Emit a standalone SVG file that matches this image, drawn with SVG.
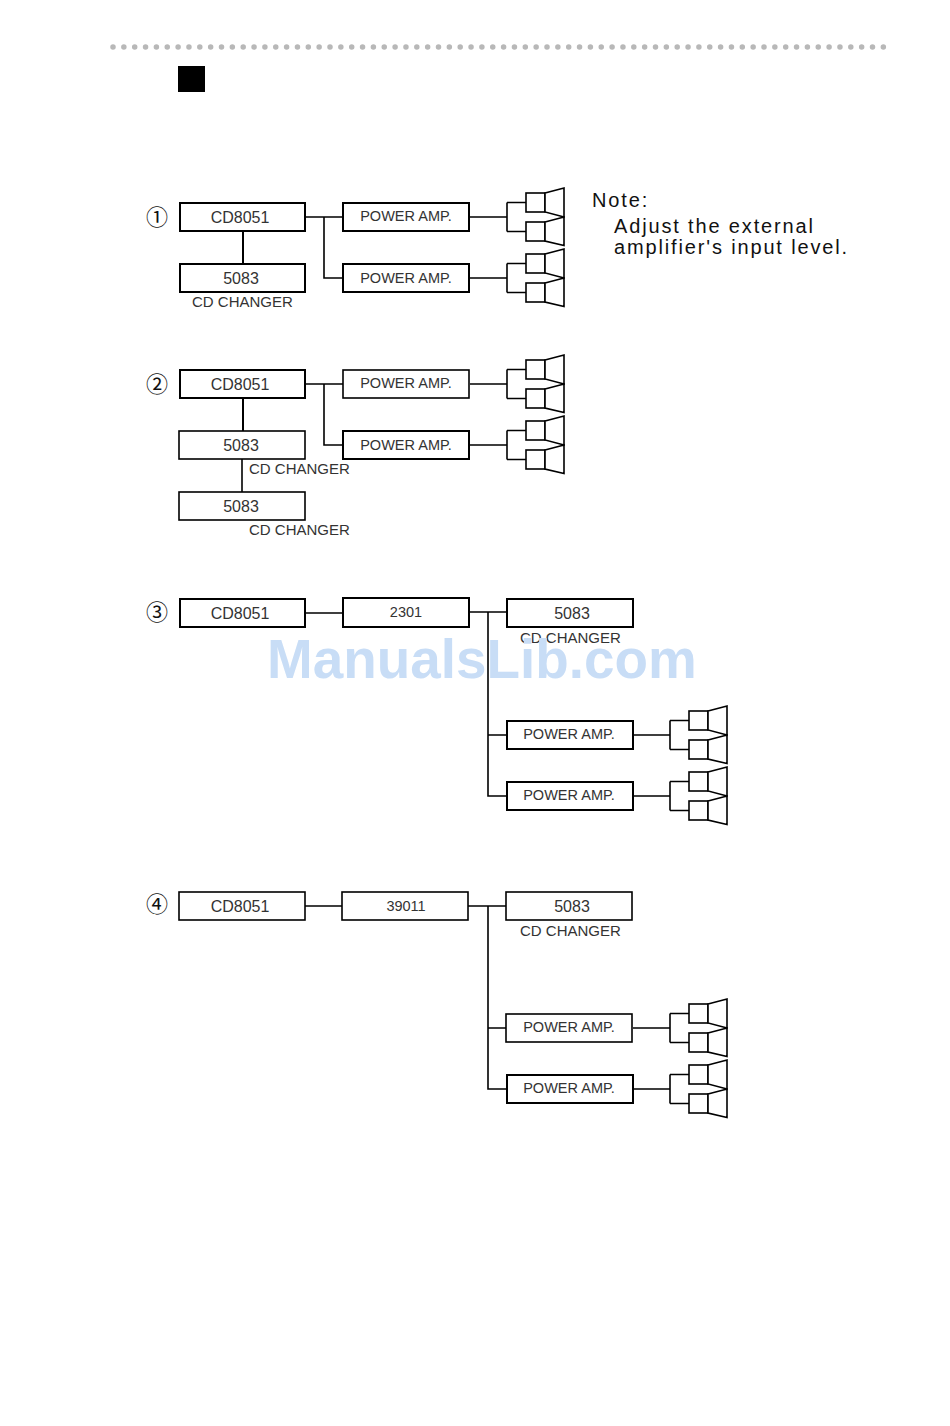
<svg xmlns="http://www.w3.org/2000/svg" xmlns:xlink="http://www.w3.org/1999/xlink" width="950" height="1426" viewBox="0 0 950 1426">
<style>
text{font-family:"Liberation Sans",Arial,sans-serif;fill:#333}
.b{fill:#fff;stroke:#000;stroke-width:2}
.c{fill:none;stroke:#000;stroke-width:1.6}
.s{fill:#fff;stroke:#000;stroke-width:1.6;stroke-linejoin:miter}
.m{font-size:16px;text-anchor:middle}
.p{font-size:14.5px;text-anchor:middle}
.l{font-size:15px}
.n{font-size:20px;letter-spacing:1.85px;fill:#111}
.k{font-family:"Noto Sans CJK JP","Noto Sans",sans-serif;font-size:22px;fill:#111}
</style>
<defs>
<g id="spk">
<path class="c" d="M-37 0H0M0 -14.500V14.500M0 -14.500H19M0 14.500H19"/>
<rect class="s" x="19" y="-24" width="19" height="19"/>
<path class="s" d="M38 -24 57 -29V0L38 -5Z"/>
<rect class="s" x="19" y="5" width="19" height="19"/>
<path class="s" d="M38 5 57 0V28.500L38 24Z"/>
</g>
</defs>
<rect width="950" height="1426" fill="#fff"/>
<g id="header">
<line x1="113" y1="47" x2="886" y2="47" stroke="#b8b8b8" stroke-width="5.500" stroke-linecap="round" stroke-dasharray="0 10.85"/>
<rect x="178" y="66" width="27" height="26" fill="#000"/>
</g>
<g id="connectors">
<path class="c" d="M305 217H343M324 217V278H343"/>
<path class="c" style="stroke-width:2" d="M243 231V264"/>
<path class="c" d="M305 384H343M324 384V445H343"/>
<path class="c" style="stroke-width:2" d="M243 398V431"/>
<path class="c" d="M242 459V492"/>
<path class="c" d="M305 613H343M469 612H507M488 612V796H507M488 735H507"/>
<path class="c" d="M305 906H342M468 906H506M488 906V1089H506M488 1028H506"/>
</g>
<g id="note">
<text class="n" x="592" y="207">Note:</text>
<text class="n" x="614" y="233">Adjust the external</text>
<text class="n" x="614" y="254">amplifier's input level.</text>
</g>
<g id="section1">
<text class="k" x="146" y="225">①</text>
<g id="s1-cd8051"><rect class="b" x="180" y="203" width="125" height="28"/><text class="m" x="240" y="223">CD8051</text></g>
<g id="s1-5083"><rect class="b" x="180" y="264" width="125" height="28"/><text class="m" x="241" y="284">5083</text></g>
<text id="s1-changer" class="l" x="192" y="307">CD CHANGER</text>
<g id="s1-amp1"><rect class="b" x="343" y="203" width="126" height="28"/><text class="p" x="406" y="221">POWER AMP.</text></g>
<g id="s1-amp2"><rect class="b" x="343" y="264" width="126" height="28"/><text class="p" x="406" y="283">POWER AMP.</text></g>
<use id="s1-spk1" href="#spk" xlink:href="#spk" x="507" y="217"/>
<use id="s1-spk2" href="#spk" xlink:href="#spk" x="507" y="278"/>
</g>
<g id="section2">
<text class="k" x="146" y="392">②</text>
<g id="s2-cd8051"><rect class="b" x="180" y="370" width="125" height="28"/><text class="m" x="240" y="390">CD8051</text></g>
<g id="s2-5083a"><rect class="b" style="stroke-width:1.6" x="179" y="431" width="126" height="28"/><text class="m" x="241" y="451">5083</text></g>
<text id="s2-changer1" class="l" x="249" y="474">CD CHANGER</text>
<g id="s2-5083b"><rect class="b" style="stroke-width:1.6" x="179" y="492" width="126" height="28"/><text class="m" x="241" y="512">5083</text></g>
<text id="s2-changer2" class="l" x="249" y="535">CD CHANGER</text>
<g id="s2-amp1"><rect class="b" style="stroke-width:1.6" x="343" y="370" width="126" height="28"/><text class="p" x="406" y="388">POWER AMP.</text></g>
<g id="s2-amp2"><rect class="b" x="343" y="431" width="126" height="28"/><text class="p" x="406" y="450">POWER AMP.</text></g>
<use id="s2-spk1" href="#spk" xlink:href="#spk" x="507" y="384"/>
<use id="s2-spk2" href="#spk" xlink:href="#spk" x="507" y="445"/>
</g>
<g id="section3">
<text class="k" x="146" y="620">③</text>
<g id="s3-cd8051"><rect class="b" x="180" y="599" width="125" height="28"/><text class="m" x="240" y="619">CD8051</text></g>
<g id="s3-2301"><rect class="b" x="343" y="598" width="126" height="29"/><text class="p" x="406" y="617">2301</text></g>
<g id="s3-5083"><rect class="b" x="507" y="599" width="126" height="28"/><text class="m" x="572" y="619">5083</text></g>
<text id="s3-changer" class="l" x="520" y="643">CD CHANGER</text>
<g id="s3-amp1"><rect class="b" x="507" y="721" width="126" height="28"/><text class="p" x="569" y="739">POWER AMP.</text></g>
<g id="s3-amp2"><rect class="b" x="507" y="782" width="126" height="28"/><text class="p" x="569" y="800">POWER AMP.</text></g>
<use id="s3-spk1" href="#spk" xlink:href="#spk" x="670" y="735"/>
<use id="s3-spk2" href="#spk" xlink:href="#spk" x="670" y="796"/>
</g>
<g id="section4">
<text class="k" x="146" y="912">④</text>
<g id="s4-cd8051"><rect class="b" style="stroke-width:1.6" x="179" y="892" width="126" height="28"/><text class="m" x="240" y="912">CD8051</text></g>
<g id="s4-39011"><rect class="b" style="stroke-width:1.6" x="342" y="892" width="126" height="28"/><text class="p" x="406" y="911">39011</text></g>
<g id="s4-5083"><rect class="b" style="stroke-width:1.6" x="506" y="892" width="126" height="28"/><text class="m" x="572" y="912">5083</text></g>
<text id="s4-changer" class="l" x="520" y="936">CD CHANGER</text>
<g id="s4-amp1"><rect class="b" style="stroke-width:1.6" x="506" y="1014" width="126" height="28"/><text class="p" x="569" y="1032">POWER AMP.</text></g>
<g id="s4-amp2"><rect class="b" x="507" y="1075" width="126" height="28"/><text class="p" x="569" y="1093">POWER AMP.</text></g>
<use id="s4-spk1" href="#spk" xlink:href="#spk" x="670" y="1028"/>
<use id="s4-spk2" href="#spk" xlink:href="#spk" x="670" y="1089"/>
</g>
<text id="watermark" x="267" y="678" style="font-size:54.850px;font-weight:bold;fill:#c8ddf6">ManualsLib.com</text>
</svg>
